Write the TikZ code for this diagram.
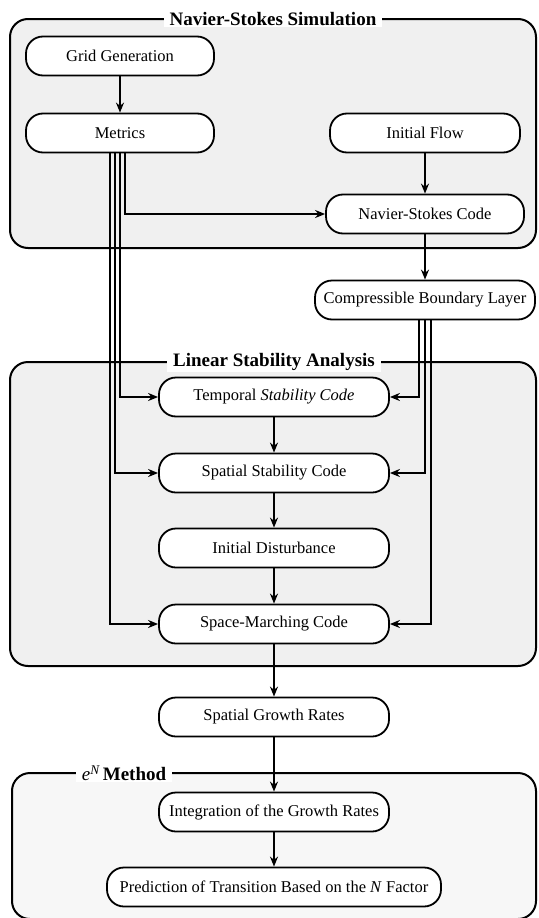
\documentclass[tikz,border=0pt]{standalone}
\usepackage{fontspec}
\setmainfont{Liberation Serif}
\usetikzlibrary{arrows.meta}
\begin{document}
\begin{tikzpicture}[x=1pt,y=-1pt,
  box/.style={draw, line width=1.8pt, rounded corners=17pt, fill=white, minimum height=39pt, inner sep=0pt, font=\fontsize{16.5}{19}\selectfont},
  panel/.style={draw, line width=2pt, rounded corners=18pt, fill=black!6},
  ftitle/.style={fill=white, inner xsep=6pt, inner ysep=1pt, font=\fontsize{19}{23}\selectfont\bfseries},
  conn/.style={line width=1.7pt, -{Stealth[length=10pt,width=8pt]}}]
\useasboundingbox (0,0) rectangle (538,918);
\clip (0,0) rectangle (538,918);
\fill[white] (0,0) rectangle (538,918);
% panels
\draw[panel] (10,19) rectangle (536,248);
\draw[panel] (10,362) rectangle (536,666);
\draw[panel, fill=black!3] (12,773) rectangle (536,919);
\node[ftitle] (t1) at (273,19) {Navier-Stokes Simulation};
\node[ftitle] (t2) at (274,362) {Linear Stability Analysis};
\node[ftitle] (t3) at (124,773) {{\mdseries\itshape e\textsuperscript{N}}\,Method};
% nodes
\node[box, minimum width=188pt] (gg) at (120,56) {Grid Generation};
\node[box, minimum width=188pt] (met) at (120,133) {Metrics};
\node[box, minimum width=190pt] (if) at (425,133) {Initial Flow};
\node[box, minimum width=198pt] (ns) at (425,214) {Navier-Stokes Code};
\node[box, minimum width=220pt] (cbl) at (425,300) {Compressible Boundary Layer};
\node[box, minimum width=230pt] (tsc) at (274,397) {Temporal \textit{Stability Code}};
\node[box, minimum width=230pt] (ssc) at (274,473) {Spatial Stability Code};
\node[box, minimum width=230pt] (idist) at (274,548) {Initial Disturbance};
\node[box, minimum width=230pt] (smc) at (274,624) {Space-Marching Code};
\node[box, minimum width=230pt] (sgr) at (274,717) {Spatial Growth Rates};
\node[box, minimum width=230pt] (igr) at (274,812) {Integration of the Growth Rates};
\node[box, minimum width=334pt] (pred) at (274,887) {Prediction of Transition Based on the \textit{N} Factor};
% straight connectors
\draw[conn] (gg) -- (met);
\draw[conn] (if) -- (ns);
\draw[conn] (ns) -- (cbl);
\draw[conn] (tsc) -- (ssc);
\draw[conn] (ssc) -- (idist);
\draw[conn] (idist) -- (smc);
\draw[conn] (smc) -- (sgr);
\draw[conn] (sgr) -- (igr);
\draw[conn] (igr) -- (pred);
% metrics bundle
\coordinate (mA) at (110,0);
\coordinate (mB) at (115,0);
\coordinate (mC) at (120,0);
\coordinate (mD) at (125,0);
\draw[conn] (met.south -| mD) |- (ns.west);
\draw[conn] (met.south -| mC) |- (tsc.west);
\draw[conn] (met.south -| mB) |- (ssc.west);
\draw[conn] (met.south -| mA) |- (smc.west);
% boundary layer bundle
\coordinate (cA) at (419,0);
\coordinate (cB) at (425,0);
\coordinate (cC) at (431,0);
\draw[conn] (cbl.south -| cA) |- (tsc.east);
\draw[conn] (cbl.south -| cB) |- (ssc.east);
\draw[conn] (cbl.south -| cC) |- (smc.east);
\end{tikzpicture}
\end{document}
